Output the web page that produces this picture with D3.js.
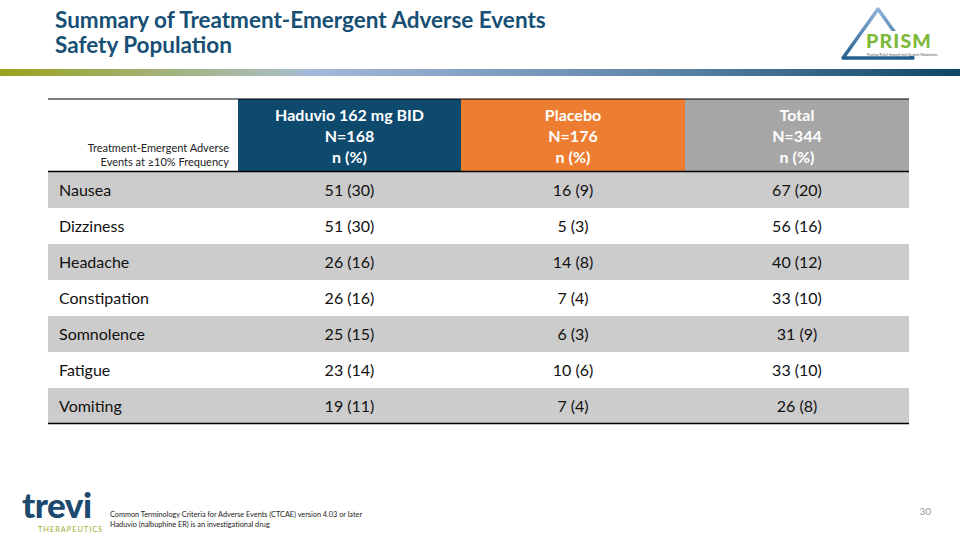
<!DOCTYPE html>
<html><head><meta charset="utf-8">
<script src="https://cdn.jsdelivr.net/npm/d3@7"></script>
<style>body{margin:0;background:#fff}svg{display:block;font-family:Lato,"Open Sans",sans-serif}</style>
</head><body><svg id="c" width="960" height="540"></svg>
<script>
const title = ["Summary of Treatment-Emergent Adverse Events", "Safety Population"];
const stubHeader = ["Treatment-Emergent Adverse", "Events at \u226510% Frequency"];
const groups = ["Haduvio 162 mg BID", "Placebo", "Total"];
const groupN = ["N=168", "N=176", "N=344"];
const groupUnit = ["n (%)", "n (%)", "n (%)"];
const events = ["Nausea", "Dizziness", "Headache", "Constipation", "Somnolence", "Fatigue", "Vomiting"];
const haduvio = ["51 (30)", "51 (30)", "26 (16)", "26 (16)", "25 (15)", "23 (14)", "19 (11)"];
const placebo = ["16 (9)", "5 (3)", "14 (8)", "7 (4)", "6 (3)", "10 (6)", "7 (4)"];
const total = ["67 (20)", "56 (16)", "40 (12)", "33 (10)", "31 (9)", "33 (10)", "26 (8)"];
const footnotes = ["Common Terminology Criteria for Adverse Events (CTCAE) version 4.03 or later", "Haduvio (nalbuphine ER) is an investigational drug"];
const pageNumber = "30";

const svg = d3.select("#c");
const headerColors = ["#0d4a6e", "#ed7d31", "#a6a6a6"];

// title
svg.append("text").attr("x", 55).attr("y", 28).attr("fill", "#174f75")
  .attr("font-size", 22.5).attr("font-weight", 700)
  .selectAll("tspan").data(title).join("tspan")
  .attr("x", 55).attr("dy", (d, i) => i ? 25 : 0).text(d => d);

// gradient bar
const defs = svg.append("defs");
const g = defs.append("linearGradient").attr("id", "bar");
[["0%", "#9aa31c"], ["30%", "#a9bdc0"], ["32%", "#a5b9dc"], ["70%", "#5c84a5"], ["100%", "#0d4566"]]
  .forEach(([o, c]) => g.append("stop").attr("offset", o).attr("stop-color", c));
svg.append("rect").attr("x", 0).attr("y", 69).attr("width", 960).attr("height", 7).attr("fill", "url(#bar)");

// PRISM logo
const lg = defs.append("linearGradient").attr("id", "tri").attr("x1", 0).attr("y1", 0).attr("x2", 0).attr("y2", 1);
lg.append("stop").attr("offset", "0%").attr("stop-color", "#8fb3da");
lg.append("stop").attr("offset", "100%").attr("stop-color", "#235f8e");
svg.append("path").attr("d", "M878,9 L913,58 L843,58 Z").attr("fill", "none")
  .attr("stroke", "url(#tri)").attr("stroke-width", 3.5).attr("stroke-linejoin", "round");
svg.append("rect").attr("x", 864).attr("y", 31).attr("width", 76).attr("height", 25).attr("fill", "#fff");
svg.append("text").attr("x", 866).attr("y", 48).attr("fill", "#7cb83a").attr("font-size", 19.5)
  .attr("font-weight", 900).attr("letter-spacing", 1.2).attr("font-family", "Lato").text("PRISM");
svg.append("text").attr("x", 867).attr("y", 55.5).attr("fill", "#555").attr("font-size", 3.4)
  .text("Pruritus Relief through Itch-Scratch Modulation");

// table
const x0 = 48, x1 = 909;
const colEdges = [48, 238, 461, 685, 909];
const colX = d3.scaleOrdinal().domain([0, 1, 2, 3]).range(colEdges.slice(0, 4));
const colW = i => colEdges[i + 1] - colEdges[i];
const headTop = 99, headBot = 171;
const y = d3.scaleBand().domain(events).range([172, 424]);

// header
groups.forEach((gname, i) => {
  const xi = colX(i + 1);
  svg.append("rect").attr("x", xi).attr("y", headTop).attr("width", colW(i + 1)).attr("height", headBot - headTop)
    .attr("fill", headerColors[i]);
  const t = svg.append("text").attr("fill", "#fff").attr("font-size", 16).attr("font-weight", 700)
    .attr("text-anchor", "middle");
  [gname, groupN[i], groupUnit[i]].forEach((s, k) =>
    t.append("tspan").attr("x", xi + colW(i + 1) / 2).attr("y", 121 + k * 21).text(s));
});
svg.append("text").attr("fill", "#222").attr("font-size", 11).attr("text-anchor", "end")
  .selectAll("tspan").data(stubHeader).join("tspan")
  .attr("x", 229).attr("y", (d, i) => 152 + i * 13.5).text(d => d);

// rows
const rows = events.map((e, i) => ({ e, i, vals: [haduvio[i], placebo[i], total[i]] }));
const rg = svg.append("g").selectAll("g").data(rows).join("g");
rg.append("rect").attr("x", x0).attr("y", d => y(d.e)).attr("width", x1 - x0).attr("height", y.bandwidth())
  .attr("fill", d => d.i % 2 === 0 ? "#cccccc" : "#ffffff");
rg.append("text").attr("x", 59).attr("y", d => y(d.e) + y.bandwidth() / 2 + 5.5)
  .attr("font-size", 16).attr("fill", "#111").text(d => d.e);
rg.each(function (d) {
  d3.select(this).selectAll("text.v").data(d.vals).join("text").attr("class", "v")
    .attr("x", (v, k) => colX(k + 1) + colW(k + 1) / 2)
    .attr("y", y(d.e) + y.bandwidth() / 2 + 5.5)
    .attr("text-anchor", "middle").attr("font-size", 16).attr("fill", "#111").text(v => v);
});

// lines
svg.append("line").attr("x1", x0).attr("x2", x1).attr("y1", headTop).attr("y2", headTop).attr("stroke", "#000").attr("stroke-width", 1);
svg.append("line").attr("x1", x0).attr("x2", x1).attr("y1", headBot + 0.5).attr("y2", headBot + 0.5).attr("stroke", "#000").attr("stroke-width", 1.5);
svg.append("line").attr("x1", x0).attr("x2", x1).attr("y1", 423.5).attr("y2", 423.5).attr("stroke", "#000").attr("stroke-width", 1.5);

// trevi logo
svg.append("text").attr("x", 22).attr("y", 518).attr("font-size", 35).attr("font-weight", 900)
  .attr("fill", "#1c4a6e").attr("letter-spacing", -0.5).attr("font-family", "Lato")
  .text("trevi");
svg.append("text").attr("x", 38).attr("y", 532).attr("font-size", 7.5).attr("fill", "#a5a930")
  .attr("letter-spacing", 0.9).text("THERAPEUTICS");

// footnotes
svg.append("text").attr("font-size", 7.3).attr("fill", "#222")
  .selectAll("tspan").data(footnotes).join("tspan")
  .attr("x", 110).attr("y", (d, i) => 517 + i * 10).text(d => d);
svg.append("text").attr("x", 931).attr("y", 515).attr("font-size", 10).attr("fill", "#999")
  .attr("text-anchor", "end").text(pageNumber);
</script></body></html>
